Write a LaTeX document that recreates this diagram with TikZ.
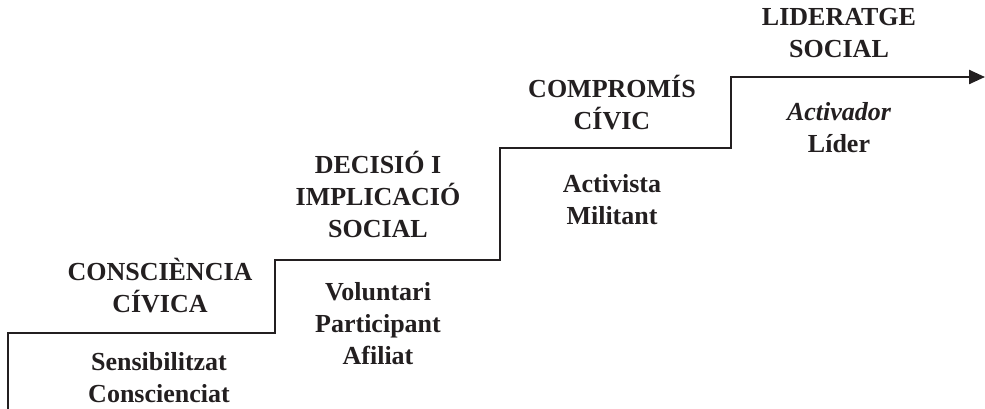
\documentclass[tikz,border=0pt]{standalone}
\usepackage{fontspec}
\setmainfont{Liberation Serif}
\usetikzlibrary{arrows.meta}

\definecolor{ink}{HTML}{231F20}
\tikzset{
  stair/.style={draw=ink, line width=2.4pt, -{Triangle[length=16pt,width=14pt]}},
  stage/.style={text=ink, align=center, font=\fontsize{26}{32}\selectfont\bfseries},
}

\begin{document}
\begin{tikzpicture}[x=1pt,y=-1pt]
	\useasboundingbox (0,0) rectangle (985,409);
	% the stairs
	\draw[stair] (8,409) |- (275,333) |- (500,260) |- (731,148) |- (985,77);
	% step titles
	\node[stage] (consciencia) at (160,286) {CONSCIÈNCIA\\CÍVICA};
	\node[stage] (decisio) at (378,194) {DECISIÓ I\\IMPLICACIÓ\\SOCIAL};
	\node[stage] (compromis) at (612,103) {COMPROMÍS\\CÍVIC};
	\node[stage] (lideratge) at (839,33) {LIDERATGE\\SOCIAL};
	% roles
	\node[stage] (sensibilitzat) at (159,378) {Sensibilitzat\\Conscienciat};
	\node[stage] (voluntari) at (378,324) {Voluntari\\Participant\\Afiliat};
	\node[stage] (activista) at (612,200) {Activista\\Militant};
	\node[stage] (lider) at (839,128) {\itshape Activador\\Líder};
\end{tikzpicture}
\end{document}
